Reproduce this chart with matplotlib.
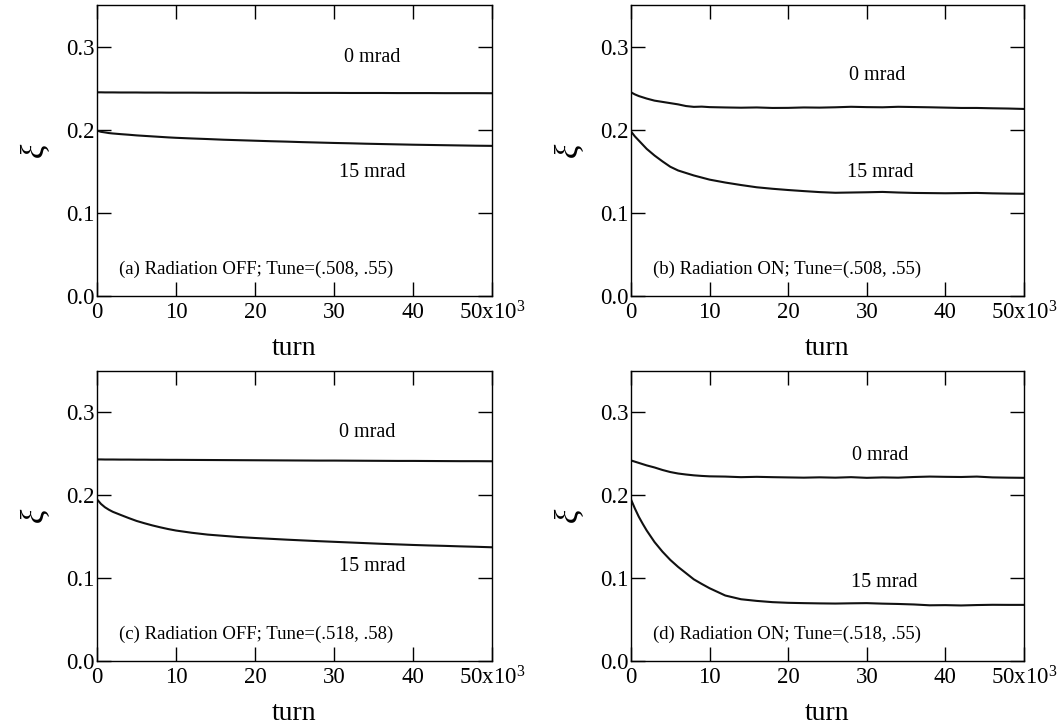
#!/usr/bin/env python3
"""
Beam-beam parameter xi vs. turn for 0 and 15 mrad crossing angle
"""

import matplotlib
matplotlib.use("Agg")
import matplotlib.pyplot as plt

plt.rcParams['font.family'] = ['Liberation Serif', 'DejaVu Serif']
plt.rcParams['mathtext.fontset'] = 'custom'
plt.rcParams['mathtext.rm'] = 'Liberation Serif'
plt.rcParams['mathtext.it'] = 'Liberation Serif:italic'

# turn number, in units of 10^3
turns = [0, 0.5, 1, 1.5, 2, 3, 4, 5, 6, 7, 8, 9, 10, 12, 14, 16, 18, 20,
         22, 24, 26, 28, 30, 32, 34, 36, 38, 40, 42, 44, 46, 48, 50]

# (a) radiation off, tune (.508, .55)
xi_a_0mrad = [0.2450, 0.2450, 0.2449, 0.2449, 0.2449, 0.2448, 0.2448, 0.2448,
              0.2447, 0.2447, 0.2447, 0.2446, 0.2446, 0.2446, 0.2445, 0.2445,
              0.2445, 0.2444, 0.2444, 0.2444, 0.2443, 0.2443, 0.2443, 0.2442,
              0.2442, 0.2442, 0.2441, 0.2441, 0.2441, 0.2440, 0.2440, 0.2440,
              0.2439]
xi_a_15mrad = [0.1990, 0.1975, 0.1968, 0.1960, 0.1955, 0.1947, 0.1940, 0.1932,
               0.1926, 0.1920, 0.1914, 0.1908, 0.1903, 0.1895, 0.1888, 0.1880,
               0.1874, 0.1868, 0.1862, 0.1857, 0.1851, 0.1846, 0.1841, 0.1837,
               0.1832, 0.1828, 0.1824, 0.1820, 0.1817, 0.1814, 0.1811, 0.1808,
               0.1806]

# (b) radiation on, tune (.508, .55)
xi_b_0mrad = [0.2450, 0.2425, 0.2405, 0.2390, 0.2375, 0.2350, 0.2335, 0.2320,
              0.2305, 0.2285, 0.2275, 0.2278, 0.2272, 0.2268, 0.2265, 0.2268,
              0.2262, 0.2263, 0.2268, 0.2266, 0.2270, 0.2276, 0.2272, 0.2270,
              0.2276, 0.2273, 0.2270, 0.2266, 0.2262, 0.2262, 0.2258, 0.2255,
              0.2250]
xi_b_15mrad = [0.1980, 0.1920, 0.1870, 0.1820, 0.1770, 0.1690, 0.1620, 0.1555,
               0.1510, 0.1480, 0.1450, 0.1425, 0.1400, 0.1365, 0.1335, 0.1308,
               0.1290, 0.1275, 0.1262, 0.1250, 0.1242, 0.1245, 0.1248, 0.1252,
               0.1245, 0.1240, 0.1238, 0.1236, 0.1238, 0.1240, 0.1235, 0.1232,
               0.1230]

# (c) radiation off, tune (.518, .58)
xi_c_0mrad = [0.2432, 0.2432, 0.2431, 0.2431, 0.2431, 0.2430, 0.2430, 0.2429,
              0.2429, 0.2428, 0.2428, 0.2427, 0.2427, 0.2426, 0.2425, 0.2424,
              0.2423, 0.2422, 0.2421, 0.2420, 0.2419, 0.2418, 0.2418, 0.2417,
              0.2416, 0.2415, 0.2414, 0.2414, 0.2413, 0.2412, 0.2411, 0.2411,
              0.2410]
xi_c_15mrad = [0.1950, 0.1895, 0.1855, 0.1825, 0.1800, 0.1762, 0.1725, 0.1690,
               0.1662, 0.1636, 0.1613, 0.1592, 0.1574, 0.1547, 0.1525, 0.1510,
               0.1495, 0.1484, 0.1474, 0.1464, 0.1455, 0.1446, 0.1438, 0.1430,
               0.1422, 0.1414, 0.1407, 0.1400, 0.1394, 0.1389, 0.1383, 0.1378,
               0.1372]

# (d) radiation on, tune (.518, .55)
xi_d_0mrad = [0.2420, 0.2405, 0.2390, 0.2375, 0.2360, 0.2335, 0.2305, 0.2280,
              0.2262, 0.2250, 0.2240, 0.2233, 0.2228, 0.2225, 0.2218, 0.2222,
              0.2218, 0.2215, 0.2212, 0.2216, 0.2212, 0.2218, 0.2210, 0.2215,
              0.2212, 0.2220, 0.2225, 0.2222, 0.2220, 0.2225, 0.2215, 0.2212,
              0.2210]
xi_d_15mrad = [0.1950, 0.1840, 0.1740, 0.1655, 0.1575, 0.1435, 0.1320, 0.1220,
               0.1135, 0.1060, 0.0985, 0.0930, 0.0878, 0.0790, 0.0745, 0.0725,
               0.0710, 0.0702, 0.0698, 0.0695, 0.0693, 0.0696, 0.0698, 0.0692,
               0.0688, 0.0682, 0.0672, 0.0674, 0.0670, 0.0675, 0.0678, 0.0677,
               0.0677]

captions = ['(a) Radiation OFF; Tune=(.508, .55)',
            '(b) Radiation ON; Tune=(.508, .55)',
            '(c) Radiation OFF; Tune=(.518, .58)',
            '(d) Radiation ON; Tune=(.518, .55)']

x_ticks = [0, 10, 20, 30, 40, 50]
x_ticklabels = ['0', '10', '20', '30', '40', r'50x10$^{3}$']
y_ticks = [0.0, 0.1, 0.2, 0.3]
y_ticklabels = ['0.0', '0.1', '0.2', '0.3']


def draw_panel(ax, xi_0, xi_15, caption, pos_0, pos_15):
    """One panel: two xi curves with their labels"""
    ax.plot(turns, xi_0, color='#111111', linewidth=1.5)
    ax.plot(turns, xi_15, color='#111111', linewidth=1.5)

    ax.set_xlim(0, 50)
    ax.set_ylim(0, 0.35)
    ax.set_xticks(x_ticks)
    ax.set_xticklabels(x_ticklabels)
    ax.set_yticks(y_ticks)
    ax.set_yticklabels(y_ticklabels)
    ax.tick_params(direction='in', length=10, width=1.0, labelsize=16.5,
                   top=True, right=True)
    ax.tick_params(axis='x', pad=4)
    ax.tick_params(axis='y', pad=2)
    for spine in ax.spines.values():
        spine.set_linewidth(1.0)

    ax.set_xlabel('turn', fontsize=20, labelpad=8)
    ax.set_ylabel(r'$\xi$', fontsize=24, labelpad=10)

    ax.text(pos_0[0], pos_0[1], '0 mrad', fontsize=14.5, ha='center', va='center')
    ax.text(pos_15[0], pos_15[1], '15 mrad', fontsize=14.5, ha='center', va='center')
    ax.text(2.8, 0.032, caption, fontsize=13.5, ha='left', va='center')


fig = plt.figure(figsize=(10.64, 7.27), dpi=100)
ax_a = fig.add_axes([0.0912, 0.5928, 0.3712, 0.4003])
ax_b = fig.add_axes([0.5930, 0.5928, 0.3694, 0.4003])
ax_c = fig.add_axes([0.0912, 0.0908, 0.3712, 0.3990])
ax_d = fig.add_axes([0.5930, 0.0908, 0.3694, 0.3990])

draw_panel(ax_a, xi_a_0mrad, xi_a_15mrad, captions[0], (34.8, 0.287), (34.8, 0.149))
draw_panel(ax_b, xi_b_0mrad, xi_b_15mrad, captions[1], (31.3, 0.265), (31.7, 0.149))
draw_panel(ax_c, xi_c_0mrad, xi_c_15mrad, captions[2], (34.2, 0.276), (34.8, 0.114))
draw_panel(ax_d, xi_d_0mrad, xi_d_15mrad, captions[3], (31.7, 0.248), (32.2, 0.095))

plt.savefig('out.png', dpi=100)
